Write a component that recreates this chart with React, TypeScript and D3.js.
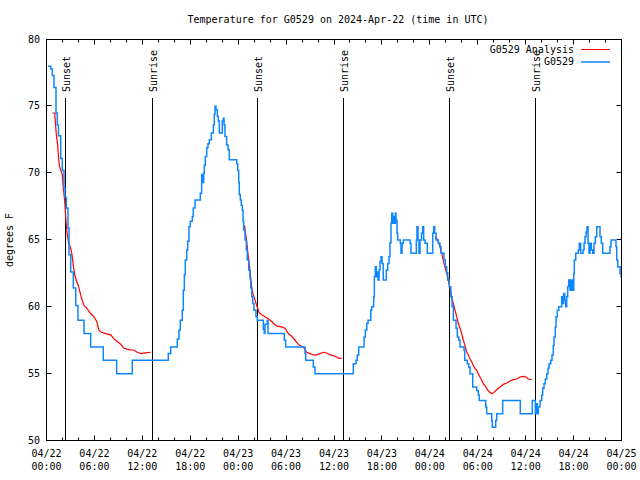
import * as d3 from 'd3';

// hours since 2024-04-22 00:00 UTC, temperature in degrees F
const observed: [number, number][] = [
  [0.19, 78], [0.53, 77.8], [0.73, 77.3], [0.94, 76.4], [1.19, 74.5], [1.35, 73.6], [1.5, 72.8],
  [1.78, 71.1], [1.98, 70.2], [2.19, 68.9], [2.32, 68.2], [2.48, 67.4], [2.69, 65.9], [2.82, 63.9],
  [3.03, 62.6], [3.36, 61.4], [3.66, 60.1], [3.94, 59], [4.7, 58], [5.53, 57], [7.11, 56], [8.78, 55],
  [10.74, 56], [15.25, 56.5], [15.55, 57], [16.38, 57.6], [16.59, 58.25], [16.75, 59], [17.0, 59.75],
  [17.13, 61.25], [17.26, 62.4], [17.38, 63.5], [17.56, 64.25], [17.68, 64.9], [17.84, 66], [18.01, 66.4],
  [18.26, 66.75], [18.38, 67.4], [18.6, 68], [19.26, 68.5], [19.43, 69.9], [19.56, 69.3], [19.68, 70],
  [19.76, 70.6], [19.89, 71.25], [20.06, 71.9], [20.22, 72.2], [20.39, 72.5], [20.64, 73], [20.89, 73.6],
  [21.01, 74.4], [21.1, 75], [21.22, 74.75], [21.39, 74.25], [21.51, 73.9], [21.64, 73], [22.01, 73.9],
  [22.14, 74.1], [22.23, 73.6], [22.35, 72.75], [22.56, 72.1], [22.73, 71.75], [22.89, 71], [23.82, 70.7],
  [23.94, 70.2], [24.07, 69.3], [24.14, 68.4], [24.27, 68], [24.39, 67.6], [24.52, 67.2], [24.61, 66.4],
  [24.69, 65.75], [24.86, 65], [25.02, 64.25], [25.14, 63.5], [25.32, 62.75], [25.48, 62.1], [25.57, 61.4],
  [25.7, 60.75], [25.82, 60.25], [25.98, 59.75], [26.23, 59.25], [26.4, 59], [27.15, 58.3], [27.27, 58],
  [27.36, 58.7], [27.65, 59], [27.74, 58], [29.78, 57.5], [29.95, 57], [32.37, 56.5], [32.46, 56],
  [33.41, 55.5], [33.62, 55], [38.42, 55.75], [38.76, 56], [38.92, 56.4], [39.09, 57], [39.76, 57.75],
  [39.92, 58.25], [40.1, 58.75], [40.26, 59], [40.6, 59.75], [40.72, 60], [40.97, 60.75], [41.05, 62.25],
  [41.17, 63], [41.3, 62.25], [41.42, 62.6], [41.51, 62], [41.64, 62.75], [41.76, 63.4], [41.89, 63.75],
  [42.01, 63.25], [42.17, 62], [42.55, 62.75], [42.73, 63.25], [42.89, 63.75], [43.01, 64.8], [43.14, 66.25],
  [43.23, 67], [43.35, 66.25], [43.48, 66.75], [43.58, 66.25], [43.68, 67], [43.76, 66.5], [43.89, 65.5],
  [43.98, 65], [44.3, 64.75], [44.39, 64], [44.52, 64.75], [44.68, 65], [45.52, 64.75], [45.64, 64],
  [46.31, 65], [46.39, 66], [46.52, 65], [46.64, 64], [46.77, 65], [46.96, 65.5], [47.11, 66], [47.23, 65],
  [47.4, 64.75], [47.68, 64], [48.36, 65.5], [48.49, 66], [48.61, 65.5], [48.78, 65], [49.06, 64.75],
  [49.27, 64.5], [49.4, 64], [49.77, 63.5], [49.94, 63], [50.11, 62.55], [50.24, 62], [50.44, 61.5],
  [50.62, 60.75], [50.78, 60], [50.95, 59], [51.28, 58.4], [51.44, 57.75], [51.62, 57.5], [51.78, 57],
  [52.28, 56.75], [52.37, 56], [52.69, 55.75], [52.87, 55.5], [53.03, 55], [53.37, 54], [53.87, 53.75],
  [54.07, 53.4], [54.19, 53], [55.0, 52.5], [55.12, 52], [55.75, 51.5], [55.82, 51], [56.25, 51.5],
  [56.37, 52], [57.12, 53], [59.33, 52], [60.83, 53], [61.21, 52], [61.33, 52.75], [61.46, 52],
  [61.58, 52.5], [61.8, 53], [62.01, 53.4], [62.13, 53.9], [62.3, 54.25], [62.46, 54.6], [62.64, 55],
  [62.8, 55.4], [62.93, 55.75], [63.14, 56], [63.3, 56.4], [63.46, 57.1], [63.55, 57.75], [63.71, 58.5],
  [63.8, 59.25], [63.96, 59.75], [64.14, 60], [64.51, 60.75], [64.64, 60.25], [64.76, 61], [64.89, 60.5],
  [65.01, 60], [65.14, 60.75], [65.26, 61.5], [65.39, 62], [65.55, 61.25], [65.68, 62], [65.84, 61.25],
  [66.02, 62.5], [66.09, 63.5], [66.27, 64], [66.59, 64.25], [66.72, 64.75], [66.89, 64], [67.18, 64.25],
  [67.31, 64.75], [67.43, 65.25], [67.56, 65.6], [67.68, 66], [67.81, 64.75], [67.93, 64], [68.06, 64.75],
  [68.22, 64.25], [68.39, 64], [68.56, 64.75], [68.72, 65.25], [68.9, 66], [69.31, 65.25], [69.47, 64.75],
  [69.65, 64], [70.56, 64.5], [70.69, 65], [71.31, 64.5], [71.4, 63.5], [71.53, 63], [71.82, 62.5],
  [71.94, 62.25], [72, 62.25],
];

const analysisNight1: [number, number][] = [
  [0.73, 74.5], [1.03, 74.5], [1.1, 73.9], [1.23, 72.9], [1.4, 72.1], [1.48, 71.4], [1.6, 70.6],
  [1.78, 70.25], [1.98, 69.9], [2.1, 68.9], [2.28, 67.9], [2.44, 66.4], [2.6, 65.4], [2.78, 64.75],
  [3.03, 64.4], [3.19, 63.9], [3.36, 63.1], [3.53, 62.4], [3.78, 61.9], [3.98, 61.6], [4.19, 61.1],
  [4.41, 60.6], [4.7, 60.1], [5.03, 59.9], [5.53, 59.5], [5.95, 59.25], [6.29, 58.9], [6.57, 58.25],
  [6.86, 58.1], [7.41, 58], [8.04, 57.9], [8.45, 57.6], [8.87, 57.4], [9.29, 57.2], [9.7, 56.9],
  [10.33, 56.8], [10.96, 56.75], [11.37, 56.6], [11.8, 56.5], [12.42, 56.55], [13.05, 56.6],
];

const analysisNight2: [number, number][] = [
  [24.79, 66.1], [25.07, 64.9], [25.27, 63.7], [25.45, 62.9], [25.61, 61.9], [25.73, 61.25],
  [25.9, 60.9], [26.11, 60.5], [26.32, 60.1], [26.61, 59.6], [26.95, 59.4], [27.36, 59.25], [27.77, 59.1],
  [28.2, 58.9], [28.53, 58.7], [28.86, 58.55], [29.45, 58.5], [29.87, 58.4], [30.28, 58.0], [30.7, 57.8],
  [31.12, 57.5], [31.46, 57.25], [31.74, 57.1], [32.16, 57.0], [32.58, 56.6], [33.0, 56.5], [33.41, 56.4],
  [33.83, 56.4], [34.25, 56.5], [34.66, 56.6], [35.09, 56.55], [35.5, 56.4], [35.91, 56.35], [36.34, 56.25],
  [36.63, 56.15], [36.97, 56.15],
];

const analysisNight3: [number, number][] = [
  [48.65, 65.25], [48.86, 65.1], [49.06, 64.9], [49.27, 64.5], [49.48, 64.0], [49.77, 63.25], [50.11, 62.5],
  [50.31, 62.0], [50.52, 61.4], [50.74, 60.75], [50.94, 60.25], [51.15, 59.75], [51.37, 59.25], [51.57, 58.75],
  [51.78, 58.4], [51.99, 58.0], [52.19, 57.5], [52.41, 57.1], [52.62, 56.6], [52.82, 56.4], [53.03, 56.1],
  [53.24, 55.9], [53.44, 55.6], [53.66, 55.4], [53.87, 55.25], [54.07, 55.0], [54.28, 54.75], [54.49, 54.5],
  [54.69, 54.25], [54.91, 54.1], [55.12, 53.9], [55.32, 53.7], [55.53, 53.6], [55.82, 53.5], [56.03, 53.6],
  [56.37, 53.8], [56.79, 54.0], [57.2, 54.2], [57.63, 54.3], [58.04, 54.45], [58.45, 54.55], [58.88, 54.6],
  [59.29, 54.75], [59.71, 54.8], [60.04, 54.75], [60.33, 54.6], [60.76, 54.55],
];

const sunsetHours = [2.35, 26.4, 50.44];
const sunriseHours = [13.25, 37.17, 61.21];
const yTicks = [50, 55, 60, 65, 70, 75, 80];

const T0 = Date.UTC(2024, 3, 22);
const toDate = (h: number) => new Date(T0 + h * 3600e3);

const FONT = '"DejaVu Sans Mono", monospace';
const BLUE = '#0e86ff';
const RED = '#ff0000';

export default function App() {
  const width = 640;
  const height = 480;
  const left = 46.5, right = 621.5, top = 39.5, bottom = 440.5;

  const x = d3.scaleUtc().domain([toDate(0), toDate(72)]).range([left, right]);
  const y = d3.scaleLinear().domain([50, 80]).range([bottom, top]);

  const majorTicks = x.ticks(d3.utcHour.every(6)!);
  const minorTicks = x.ticks(d3.utcHour.every(2)!).filter(d => d.getUTCHours() % 6 !== 0);
  const fmtDay = d3.utcFormat('%m/%d');
  const fmtTime = d3.utcFormat('%H:%M');

  const stepLine = d3.line<[number, number]>()
    .x(d => x(toDate(d[0])))
    .y(d => y(d[1]))
    .curve(d3.curveStepAfter);
  const smoothLine = d3.line<[number, number]>()
    .x(d => x(toDate(d[0])))
    .y(d => y(d[1]));

  const events = [
    ...sunsetHours.map(h => ({ h, label: 'Sunset' })),
    ...sunriseHours.map(h => ({ h, label: 'Sunrise' })),
  ];

  return (
    <svg width={width} height={height} style={{ position: 'absolute', left: 0, top: 0, background: '#fff' }}
      fontFamily={FONT} fontSize={10}>
      <rect width={width} height={height} fill="#fff" />

      <text x={338} y={20} textAnchor="middle" dominantBaseline="middle">
        Temperature for G0529 on 2024-Apr-22 (time in UTC)
      </text>

      {/* y axis */}
      {yTicks.map(t => (
        <g key={t}>
          <line x1={left} x2={left + 5} y1={Math.round(y(t)) - 0.5} y2={Math.round(y(t)) - 0.5} stroke="#000" />
          <line x1={right - 5} x2={right} y1={Math.round(y(t)) - 0.5} y2={Math.round(y(t)) - 0.5} stroke="#000" />
          <text x={40} y={y(t)} textAnchor="end" dominantBaseline="middle">{t}</text>
        </g>
      ))}
      <text transform="translate(10,240) rotate(-90)" textAnchor="middle" dominantBaseline="middle">degrees F</text>

      {/* x axis */}
      {majorTicks.map(d => {
        const px = Math.round(x(d) - 0.5) + 0.5;
        return (
          <g key={+d}>
            <line x1={px} x2={px} y1={bottom} y2={bottom - 5} stroke="#000" />
            <line x1={px} x2={px} y1={top} y2={top + 5} stroke="#000" />
            <text x={x(d)} y={454} textAnchor="middle" dominantBaseline="middle">{fmtDay(d)}</text>
            <text x={x(d)} y={467} textAnchor="middle" dominantBaseline="middle">{fmtTime(d)}</text>
          </g>
        );
      })}
      {minorTicks.map(d => {
        const px = Math.round(x(d) - 0.5) + 0.5;
        return (
          <g key={+d}>
            <line x1={px} x2={px} y1={bottom} y2={bottom - 3} stroke="#000" />
            <line x1={px} x2={px} y1={top} y2={top + 3} stroke="#000" />
          </g>
        );
      })}

      {/* sunrise / sunset markers */}
      {events.map(e => {
        const px = Math.round(x(toDate(e.h)) - 0.5) + 0.5;
        return (
          <g key={e.label + e.h}>
            <line x1={px} x2={px} y1={98} y2={bottom} stroke="#000" />
            <text transform={`translate(${px + 1.5},92) rotate(-90)`} dominantBaseline="middle">{e.label}</text>
          </g>
        );
      })}

      {/* series */}
      {[analysisNight1, analysisNight2, analysisNight3].map((seg, i) => (
        <path key={i} d={smoothLine(seg) ?? ''} fill="none" stroke={RED} strokeWidth={1.2} />
      ))}
      <path d={stepLine(observed) ?? ''} fill="none" stroke={BLUE} strokeWidth={1.5} />

      {/* border */}
      <rect x={left} y={top} width={right - left} height={bottom - top} fill="none" stroke="#000" />

      {/* legend */}
      <text x={574} y={50} textAnchor="end" dominantBaseline="middle">G0529 Analysis</text>
      <line x1={581} x2={610} y1={49.5} y2={49.5} stroke={RED} />
      <text x={574} y={62} textAnchor="end" dominantBaseline="middle">G0529</text>
      <line x1={581} x2={610} y1={62} y2={62} stroke={BLUE} strokeWidth={1.5} />
    </svg>
  );
}
